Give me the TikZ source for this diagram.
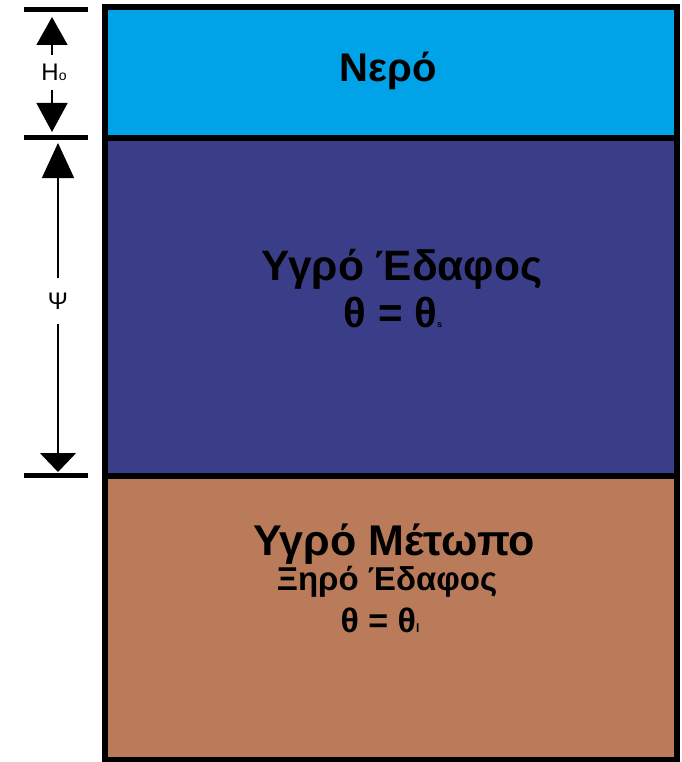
\documentclass[tikz,border=0pt]{standalone}
\usepackage{fontspec}
\setmainfont{Liberation Sans}
\usetikzlibrary{arrows.meta}
\definecolor{water}{RGB}{0,162,232}
\definecolor{wetsoil}{RGB}{58,62,137}
\definecolor{drysoil}{RGB}{185,123,89}
\begin{document}
\begin{tikzpicture}[x=1pt,y=-1pt,
  layer/.style={draw=black,line width=6pt,inner sep=0pt,outer sep=0pt,anchor=north west,minimum width=572pt},
  big/.style={font=\bfseries\fontsize{#1}{#1}\selectfont,text=black,inner sep=0pt,anchor=base},
  bar/.style={line width=5pt},
  dimlbl/.style={font=\fontsize{24}{26}\selectfont,inner sep=0pt,text=black},
  dimline/.style={line width=1.5pt}]
\useasboundingbox (0,0) rectangle (681,762);
% layers
\node[layer,fill=water,minimum height=130.5pt] (water) at (105,7.5) {};
\node[layer,fill=wetsoil,minimum height=337.5pt] (wet) at (105,138) {};
\node[layer,fill=drysoil,minimum height=284pt] (dry) at (105,475.5) {};
% texts
\node[big=40] (t1) at (388,82) {Νερό};
\node[big=42.5] (t2) at (402,280) {Υγρό Έδαφος};
\node[big=42] (t3) at (393,327) {θ = θ{\fontsize{9}{9}\selectfont s}};
\node[big=43] (t4) at (394,555) {Υγρό Μέτωπο};
\node[big=33] (t5) at (387,590) {Ξηρό Έδαφος};
\node[big=34] (t6) at (380,632) {θ = θ{\fontsize{12}{12}\selectfont l}};
% dimension bars
\coordinate (b1l) at (24,10);  \coordinate (b1r) at (88,10);
\coordinate (b2l) at (24,137.5); \coordinate (b2r) at (88,137.5);
\coordinate (b3l) at (24,475.5); \coordinate (b3r) at (88,475.5);
\draw[bar] (b1l) -- (b1r);
\draw[bar] (b2l) -- (b2r);
\draw[bar] (b3l) -- (b3r);
% H0 dimension
\node[dimlbl,minimum height=35pt] (ho) at (54,72.5) {H{\fontsize{14}{14}\selectfont o}};
\coordinate (hotip) at (52,17);
\coordinate (hobot) at (52,132);
\draw[dimline,-{Triangle[length=28pt,width=31pt]}] (ho.north -| hotip) -- (hotip);
\draw[dimline,-{Triangle[length=29pt,width=31pt]}] (ho.south -| hobot) -- (hobot);
% psi dimension
\node[dimlbl,minimum height=45pt] (psi) at (58,301) {Ψ};
\coordinate (psitip) at (58,143);
\coordinate (psibot) at (58,472);
\draw[dimline,-{Triangle[length=35pt,width=32pt]}] (psi) -- (psitip);
\draw[dimline,-{Triangle[length=19pt,width=36pt]}] (psi) -- (psibot);
\end{tikzpicture}
\end{document}
